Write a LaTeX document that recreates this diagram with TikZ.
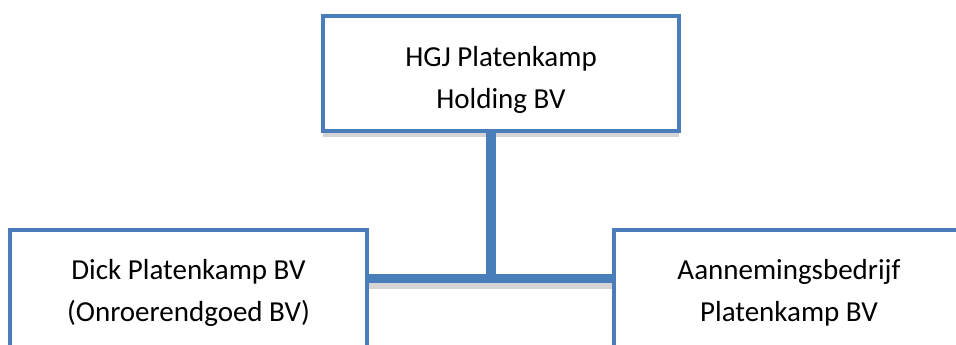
\documentclass[tikz,border=0pt]{standalone}
\usepackage{fontspec}
\setmainfont{Carlito}
\usetikzlibrary{shadows}
\definecolor{boxblue}{RGB}{74,126,187}
\definecolor{shadowgray}{RGB}{212,212,212}
\tikzset{
	orgbox/.style={draw=boxblue, line width=4pt, fill=white, align=center,
		inner sep=0pt, minimum height=115pt, font=\fontsize{29}{42}\selectfont,
		drop shadow={shadow xshift=0pt, shadow yshift=-6pt, fill=shadowgray, opacity=1}},
	link/.style={draw=boxblue, line width=10pt},
}
\begin{document}
\begin{tikzpicture}[x=1pt, y=-1pt]

	\clip (0,0) rectangle (956,345);

	\node [orgbox, minimum width=356pt] (holding) at (501,73.5) {\rule{0pt}{32pt}HGJ Platenkamp\\Holding BV};
	\node [orgbox, minimum width=357pt, minimum height=125pt] (dick) at (188.5,292.5) {Dick Platenkamp BV\\(Onroerendgoed BV)};
	\node [orgbox, minimum width=350pt, minimum height=125pt] (aannemer) at (789,292.5) {Aannemingsbedrijf\\Platenkamp BV};

	\coordinate (joint) at (491,278.5);
	\draw [draw=shadowgray, line width=6pt] ([yshift=-7pt]dick.east |- joint) -- ([yshift=-7pt]aannemer.west |- joint);
	\draw [link] (holding.south -| joint) -- (joint);
	\draw [link, line width=9pt] (dick.east |- joint) -- (aannemer.west |- joint);

\end{tikzpicture}
\end{document}
